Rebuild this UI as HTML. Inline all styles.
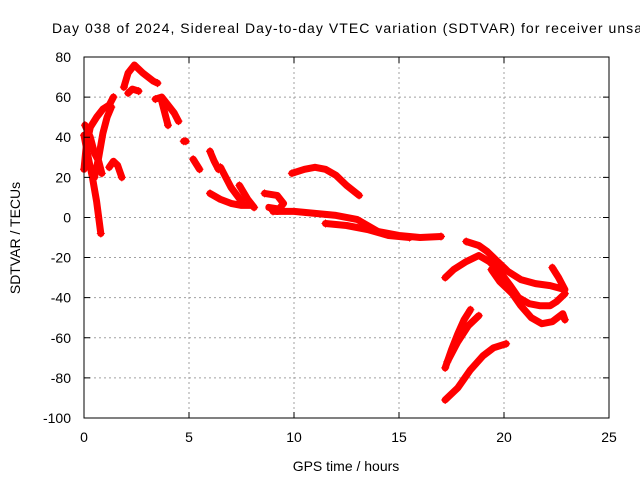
<!DOCTYPE html>
<html><head><meta charset="utf-8"><style>
body{margin:0;background:#fff}
svg{display:block;font-family:"Liberation Sans",sans-serif}
</style></head><body>
<svg id="chart" width="640" height="480" viewBox="0 0 640 480" xmlns="http://www.w3.org/2000/svg">
<rect width="640" height="480" fill="#fff"/>
<text x="52" y="33" font-size="14" textLength="590" lengthAdjust="spacing" fill="#000">Day 038 of 2024, Sidereal Day-to-day VTEC variation (SDTVAR) for receiver unsa</text>
<g id="grid"></g>
<g id="series"></g>
<rect x="84" y="57" width="525" height="361" fill="none" stroke="#000" stroke-width="1"/>
<g id="ticks"></g>
<text transform="translate(20,238) rotate(-90)" text-anchor="middle" font-size="14">SDTVAR / TECUs</text>
<text x="346" y="471" text-anchor="middle" font-size="14">GPS time / hours</text>
</svg>
<script>
const xTicks=[0,5,10,15,20,25];
const yTicks=[80,60,40,20,0,-20,-40,-60,-80,-100];
const traceDescent=[[0,41],[0.2,30],[0.4,20],[0.6,8],[0.8,-8]];
const traceRiseA=[[0,24],[0.1,35],[0.3,45],[0.6,50],[0.9,54],[1.2,56],[1.4,60]];
const traceRiseB=[[0.5,20],[0.7,30],[0.9,42],[1.1,50],[1.3,55]];
const traceFallC=[[0.05,46],[0.3,40],[0.5,32],[0.7,28],[0.85,22]];
const traceHump=[[1.2,25],[1.4,28],[1.6,26],[1.8,20]];
const tracePeak=[[1.9,65],[2.1,72],[2.4,76],[2.8,72],[3.3,68],[3.5,67]];
const tracePeakLow=[[2.1,62],[2.3,64],[2.6,63]];
const traceDropA=[[3.4,59],[3.7,60],[4.0,56],[4.3,52],[4.5,48]];
const traceDropB=[[3.7,58],[3.9,50],[4.0,46]];
const tracePoint=[[4.75,38],[4.85,38]];
const traceS1=[[5.2,29],[5.5,24]];
const traceS2=[[6.0,33],[6.2,28],[6.4,24]];
const traceBand1=[[6.0,12],[6.5,9],[7,7],[7.5,6],[8,6]];
const traceSpike1=[[6.5,25],[7,15],[7.5,8]];
const traceSpike2=[[7.4,16],[7.8,9],[8.1,5]];
const traceCluster=[[8.6,12],[9.2,11],[9.5,7],[9.2,3],[8.8,5],[9.4,4]];
const traceMain=[[9,3],[10,3],[11,2],[12,1],[13,-1],[14,-7],[15,-9],[16,-10],[17,-9.5]];
const traceMainLow=[[11.5,-3],[12.5,-4],[13.5,-6],[14.5,-9],[15.5,-10]];
const traceArch=[[9.9,22],[10.5,24],[11,25],[11.5,24],[12,21],[12.5,16],[13.1,11]];
const traceR1=[[17.2,-30],[17.6,-26],[18.2,-22],[18.8,-19],[19.3,-22],[19.8,-27],[20.3,-34],[20.7,-40],[21.2,-43],[21.7,-44],[22.2,-44],[22.5,-42],[22.9,-38]];
const traceR2=[[18.2,-12],[18.8,-14],[19.2,-17],[19.7,-22],[20.2,-27],[20.8,-31],[21.5,-33],[22.2,-34],[22.9,-36],[22.6,-30],[22.3,-25]];
const traceR3=[[19.4,-26],[19.8,-32],[20.4,-38],[20.8,-44],[21.3,-50],[21.8,-53],[22.3,-52],[22.8,-48],[22.9,-51]];
const traceL1=[[17.2,-75],[17.5,-66],[17.8,-58],[18.1,-51],[18.4,-46]];
const traceL2=[[17.3,-72],[17.8,-62],[18.3,-54],[18.8,-49]];
const traceL3=[[17.2,-91],[17.8,-85],[18.4,-76],[19,-69],[19.5,-65],[20.1,-63]];
const traces=[traceDescent,traceRiseA,traceRiseB,traceFallC,traceHump,tracePeak,tracePeakLow,traceDropA,traceDropB,tracePoint,traceS1,traceS2,traceBand1,traceSpike1,traceSpike2,traceCluster,traceMain,traceMainLow,traceArch,traceR1,traceR2,traceR3,traceL1,traceL2,traceL3];

const NS="http://www.w3.org/2000/svg";
const X0=84,X1=609,Y0=418,Y1=57;
function sx(h){return X0+(h-0)/(25-0)*(X1-X0);}
function sy(v){return Y0-(v+100)/(180)*(Y0-Y1);}
function mk(tag,attrs){const e=document.createElementNS(NS,tag);for(const k in attrs)e.setAttribute(k,attrs[k]);return e;}
const grid=document.getElementById('grid'),ticks=document.getElementById('ticks'),ser=document.getElementById('series');
xTicks.forEach(t=>{
  const x=sx(t);
  if(t>0&&t<25){const g=mk('line',{x1:x,y1:Y1,x2:x,y2:Y0,stroke:'#a0a0a0','stroke-dasharray':'2,3'});
  
  
  grid.appendChild(g);}
  const tk=mk('path',{d:`M${x},${Y0}v-6M${x},${Y1}v6`,stroke:'#000'});
  
  
  ticks.appendChild(tk);
  const l=mk('text',{x:x,y:442,'text-anchor':'middle','font-size':'14'});l.textContent=t;
  
  
  ticks.appendChild(l);
});
yTicks.forEach(t=>{
  const y=sy(t);
  if(t>-100&&t<80){const g=mk('line',{x1:X0,y1:y,x2:X1,y2:y,stroke:'#a0a0a0','stroke-dasharray':'2,3'});
  
  
  grid.appendChild(g);}
  const tk=mk('path',{d:`M${X0},${y}h6M${X1},${y}h-6`,stroke:'#000'});
  
  
  ticks.appendChild(tk);
  const l=mk('text',{x:71,y:y+5,'text-anchor':'end','font-size':'14'});l.textContent=t;
  
  
  ticks.appendChild(l);
});
traces.forEach((tr,i)=>{
  const d=tr.map((p,j)=>(j?'L':'M')+sx(p[0]).toFixed(1)+','+sy(p[1]).toFixed(1)).join('');
  const p=mk('path',{d:d,fill:'none',stroke:'#ff0000','stroke-width':'7','stroke-linejoin':'round','stroke-linecap':'round'});
  
  
  ser.appendChild(p);
  [tr[0],tr[tr.length-1]].forEach(pt=>{
    const x=sx(pt[0]),y=sy(pt[1]);
    const m=mk('path',{d:`M${x-4},${y}h8M${x},${y-4}v8`,stroke:'#ff0000','stroke-width':'1'});
    
    
    ser.appendChild(m);
  });
});
</script>
</body></html>
